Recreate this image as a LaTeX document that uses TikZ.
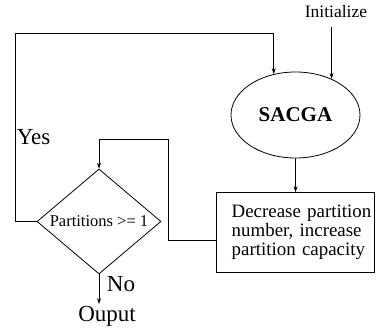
\documentclass[tikz,border=0pt]{standalone}
\usepackage{fontspec}
\setmainfont{Liberation Serif}
\usetikzlibrary{shapes.geometric,arrows.meta}

\begin{document}
\begin{tikzpicture}[
    x=1pt, y=1pt,
    line width=0.8pt,
    every node/.style={inner sep=0pt},
    biglabel/.style={font=\fontsize{23}{26}\selectfont},
    smalltext/.style={font=\fontsize{17.5}{19}\selectfont},
    ->, >={Stealth[length=6pt,width=4pt]}
]
    \useasboundingbox (0,0) rectangle (376,328);

    \node (init) [smalltext, anchor=base, inner ysep=8pt] at (336,310) {Initialize};
    \node (sacga) [draw, ellipse, minimum width=129pt, minimum height=86pt,
        font=\fontsize{21}{24}\selectfont\bfseries] at (295.5,213) {SACGA};
    \node (dec) [draw, font=\fontsize{18.9}{19}\selectfont, minimum width=158pt, minimum height=80pt,
        text width=153.8pt, inner xsep=2pt, align=left] at (295.6,95.3)
        {\hspace*{13pt}Decrease partition\\ \hspace*{13pt}number, increase\\ \hspace*{13pt}partition capacity};
    \node (cond) [draw, diamond, shape aspect=1.18, minimum width=124pt, minimum height=105pt,
        font=\fontsize{16.5}{19}\selectfont] at (99,106.5) {Partitions >= 1};
    \node (out) [biglabel, anchor=base, inner sep=2pt] at (107,6.3) {Ouput};
    \node (yes) [biglabel, anchor=base west] at (16.5,183) {Yes};
    \node (no) [biglabel, anchor=base west] at (106.5,36.3) {No};

    \coordinate (topleft) at (15,295);
    \coordinate (bend) at (168.3,188.7);

    \draw [->] (init.south -| sacga.45) -- (sacga.45);
    \draw [->] (cond.west) -| (topleft) -| (sacga.118);
    \draw [->] (sacga) -- (dec);
    \draw [->] ([yshift=-8pt]dec.west) -| (bend) -| (cond.north);
    \draw [->] (cond) -- (cond.south |- out.north);
\end{tikzpicture}
\end{document}
